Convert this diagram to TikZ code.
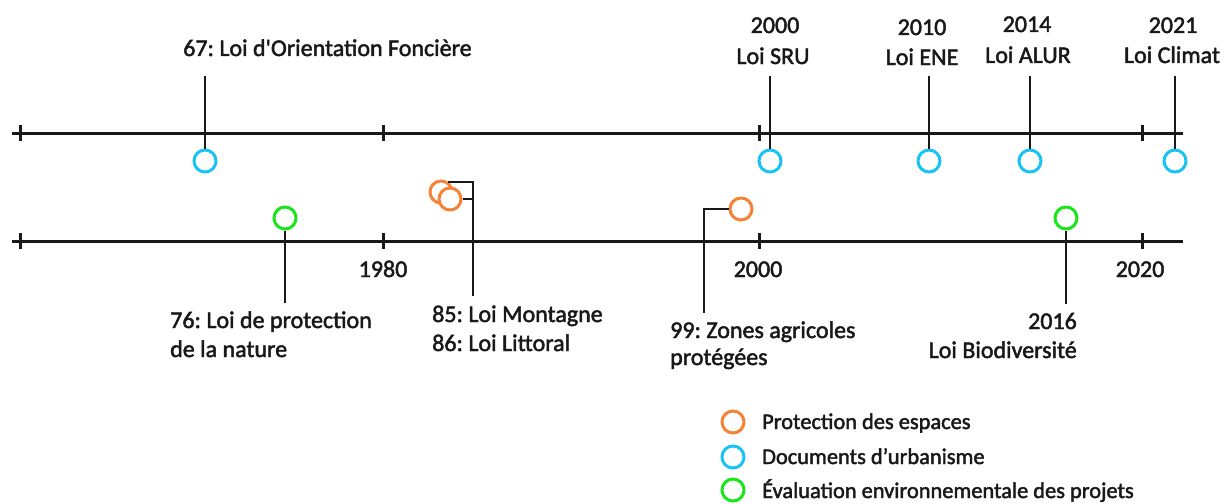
\documentclass[tikz,border=0pt]{standalone}
\usepackage{fontspec}
\setmainfont{Carlito}[Ligatures=TeXOff, FakeBold=2]
\definecolor{orng}{RGB}{245,130,55}
\definecolor{blu}{RGB}{25,195,245}
\definecolor{grn}{RGB}{25,230,25}
\definecolor{ink}{RGB}{25,25,25}
\begin{document}
\frenchspacing
\begin{tikzpicture}[x=1pt,y=-1pt,
 axis/.style={line width=3pt, ink},
 tck/.style={line width=3pt, ink},
 lnk/.style={line width=2pt, ink},
 mk/.style={circle, draw, fill=white, line width=3pt, minimum size=22pt, inner sep=0pt},
 txt/.style={inner sep=0pt, font=\fontsize{24}{28}\selectfont, text=ink},
 leg/.style={inner sep=0pt, font=\fontsize{22.4}{28}\selectfont, text=ink},
]
\useasboundingbox (0,0) rectangle (1225,503);
% axes
\coordinate (ta0) at (12,133); \coordinate (ta1) at (1183,133);
\coordinate (ba0) at (12,241); \coordinate (ba1) at (1183,241);
\draw[axis] (ta0) -- (ta1);
\draw[axis] (ba0) -- (ba1);
\foreach \x in {20,383,759,1142} {
  \draw[tck] (\x,125) -- (\x,141);
  \draw[tck] (\x,233) -- (\x,249);
}
% year labels
\node[txt, anchor=base] (y80) at (383,277) {1980};
\node[txt, anchor=base] (y00) at (758,277) {2000};
\node[txt, anchor=base] (y20) at (1140,277) {2020};
% top markers
\node[mk, draw=blu] (c67) at (205,161) {};
\node[mk, draw=blu] (c00) at (770,161) {};
\node[mk, draw=blu] (c10) at (929,161) {};
\node[mk, draw=blu] (c14) at (1030,161) {};
\node[mk, draw=blu] (c21) at (1175,161) {};
\coordinate (e67) at (205,76);
\coordinate (e00) at (770,76);
\coordinate (e10) at (929,76);
\coordinate (e14) at (1030,76);
\coordinate (e21) at (1175,76);
\draw[lnk] (c67.north) -- (e67);
\draw[lnk] (c00.north) -- (e00);
\draw[lnk] (c10.north) -- (e10);
\draw[lnk] (c14.north) -- (e14);
\draw[lnk] (c21.north) -- (e21);
\node[txt, anchor=base west] (l67) at (183,56) {67: Loi d'Orientation Foncière};
\node[txt, anchor=base] (l00a) at (775,33) {2000};
\node[txt, anchor=base] (l00b) at (773,64) {Loi SRU};
\node[txt, anchor=base] (l10a) at (922,35) {2010};
\node[txt, anchor=base] (l10b) at (922,65) {Loi ENE};
\node[txt, anchor=base] (l14a) at (1027,32) {2014};
\node[txt, anchor=base] (l14b) at (1028,63) {Loi ALUR};
\node[txt, anchor=base] (l21a) at (1173,33) {2021};
\node[txt, anchor=base] (l21b) at (1172,63) {Loi Climat};
% bottom markers
\node[mk, draw=grn] (c76) at (285,218) {};
\coordinate (e76) at (285,303);
\draw[lnk] (c76.south) -- (e76);
\node[txt, anchor=base west] (l76a) at (170,328) {76: Loi de protection};
\node[txt, anchor=base west] (l76b) at (170,357) {de la nature};
\node[mk, draw=orng] (o85) at (441,192) {};
\node[mk, draw=orng] (o86) at (450,199) {};
\coordinate (b85) at (473,296);
\draw[lnk] (o85.55) -| (b85);
\draw[lnk] (o86.east) -- (o86.east -| b85);
\node[txt, anchor=base west] (l85) at (432,322) {85: Loi Montagne};
\node[txt, anchor=base west] (l86) at (432,351) {86: Loi Littoral};
\node[mk, draw=orng] (o99) at (741,209) {};
\coordinate (b99) at (704,313);
\draw[lnk] (o99.west) -| (b99);
\node[txt, anchor=base west] (l99a) at (670,338) {99: Zones agricoles};
\node[txt, anchor=base west] (l99b) at (670,365) {protégées};
\node[mk, draw=grn] (c16) at (1066,218) {};
\coordinate (e16) at (1066,304);
\draw[lnk] (c16.south) -- (e16);
\node[txt, anchor=base east] (l16a) at (1077,329) {2016};
\node[txt, anchor=base east] (l16b) at (1077,358) {Loi Biodiversité};
% legend
\node[mk, draw=orng] (k1) at (733,422) {};
\node[mk, draw=blu] (k2) at (733,457) {};
\node[mk, draw=grn] (k3) at (733,490) {};
\node[leg, anchor=base west] (t1) at (762,429) {Protection des espaces};
\node[leg, anchor=base west] (t2) at (762,464) {Documents d’urbanisme};
\node[leg, anchor=base west] (t3) at (762,498) {Évaluation environnementale des projets};
\end{tikzpicture}
\end{document}
